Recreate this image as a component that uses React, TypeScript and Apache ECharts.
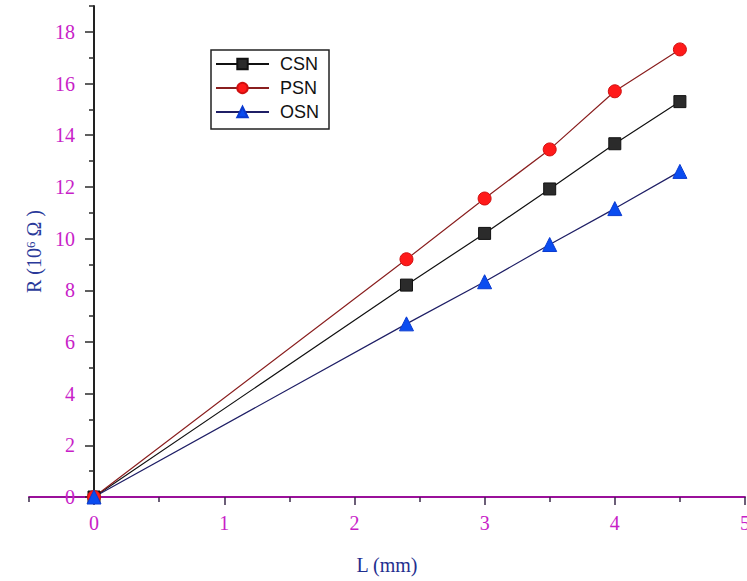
import React, { useEffect, useRef } from "react";
import * as echarts from "echarts";

const lengths = [0, 2.4, 3, 3.5, 4, 4.5];
const csn = [0, 8.2, 10.2, 11.92, 13.67, 15.3];
const psn = [0, 9.2, 11.55, 13.45, 15.7, 17.32];
const osn = [0, 6.7, 8.33, 9.77, 11.16, 12.6];
const xMajorTicks = [0, 1, 2, 3, 4, 5];
const xMinorTicks = [-0.5, 0.5, 1.5, 2.5, 3.5, 4.5];
const yMajorTicks = [0, 2, 4, 6, 8, 10, 12, 14, 16, 18];
const yMinorTicks = [1, 3, 5, 7, 9, 11, 13, 15, 17, 19];

const pair = (ys: number[]) => lengths.map((x, i) => [x, ys[i]]);

export default function App() {
  const ref = useRef<HTMLDivElement>(null);
  useEffect(() => {
    document.body.style.margin = "0";
    const chart = echarts.init(ref.current!, null, { renderer: "svg" });
    const labelColor = "#c81ec8";
    const serif = "'Liberation Serif', 'DejaVu Serif', serif";
    const tickColor = "#2a2a2a";
    chart.setOption({
      animation: false,
      backgroundColor: "#ffffff",
      grid: [
        { left: 94, top: 6, width: 651, bottom: 84, containLabel: false, outerBoundsMode: "none" },
        { left: 29, top: 6, width: 716, bottom: 84, containLabel: false, outerBoundsMode: "none" },
      ],
      legend: {
        orient: "vertical",
        left: 211,
        top: 50,
        padding: [5, 10, 8, 4],
        itemGap: 6,
        itemWidth: 53,
        itemHeight: 13,
        borderColor: "#222",
        borderWidth: 1.5,
        textStyle: {
          fontFamily: "'Liberation Sans', Arial, sans-serif",
          fontSize: 18,
          color: "#111",
          padding: [0, 0, 0, 6],
        },
        data: ["CSN", "PSN", "OSN"],
      },
      xAxis: [
        {
          type: "value",
          gridIndex: 0,
          min: 0,
          max: 5,
          show: false,
        },
        {
          type: "value",
          gridIndex: 1,
          min: -0.5,
          max: 5,
          name: "L (mm)",
          nameLocation: "middle",
          nameGap: 58,
          nameTextStyle: { fontFamily: serif, fontSize: 20, color: "#1f2f8f" },
          axisLine: { onZero: false, lineStyle: { color: "#9a109a", width: 2 } },
          axisTick: { show: true, customValues: xMajorTicks, length: 8, lineStyle: { color: "#3a2a4a", width: 1.5 } },
          axisLabel: { customValues: xMajorTicks, color: labelColor, fontFamily: serif, fontSize: 20, margin: 16 },
          splitLine: { show: false },
        },
        {
          type: "value",
          gridIndex: 1,
          min: -0.5,
          max: 5,
          position: "bottom",
          axisLine: { show: false, onZero: false },
          axisTick: { show: true, customValues: xMinorTicks, length: 5, lineStyle: { color: "#3a2a4a", width: 1.5 } },
          axisLabel: { show: false },
          splitLine: { show: false },
        },
      ],
      yAxis: [
        {
          type: "value",
          gridIndex: 0,
          min: 0,
          max: 19,
          name: "R (10{sup|6} Ω )",
          nameLocation: "middle",
          nameRotate: 90,
          nameGap: 44,
          nameTextStyle: {
            fontFamily: serif,
            fontSize: 20,
            color: "#2a3a9a",
            rich: { sup: { fontFamily: serif, fontSize: 13, color: "#2a3a9a", verticalAlign: "top", padding: [0, 0, 8, 0] } },
          },
          axisLine: { onZero: false, lineStyle: { color: "#222", width: 2 } },
          axisTick: { show: true, customValues: yMajorTicks, length: 9, lineStyle: { color: tickColor, width: 1.5 } },
          axisLabel: { customValues: yMajorTicks, color: labelColor, fontFamily: serif, fontSize: 20, margin: 19 },
          splitLine: { show: false },
        },
        {
          type: "value",
          gridIndex: 0,
          min: 0,
          max: 19,
          position: "left",
          axisLine: { show: false, onZero: false },
          axisTick: { show: true, customValues: yMinorTicks, length: 5, lineStyle: { color: tickColor, width: 1.5 } },
          axisLabel: { show: false },
          splitLine: { show: false },
        },
        {
          type: "value",
          gridIndex: 1,
          min: 0,
          max: 19,
          show: false,
        },
      ],
      series: [
        {
          name: "CSN",
          type: "line",
          xAxisIndex: 0,
          yAxisIndex: 0,
          data: pair(csn),
          symbol: "rect",
          symbolSize: 12,
          z: 3,
          lineStyle: { color: "#111", width: 1.2 },
          itemStyle: { color: "#2b2b2b", borderColor: "#111", borderWidth: 1 },
        },
        {
          name: "PSN",
          type: "line",
          xAxisIndex: 0,
          yAxisIndex: 0,
          data: pair(psn),
          symbol: "circle",
          symbolSize: 13,
          z: 3,
          lineStyle: { color: "#8a1f1f", width: 1.2 },
          itemStyle: { color: "#ff1a1a", borderColor: "#d01010", borderWidth: 1 },
        },
        {
          name: "OSN",
          type: "line",
          xAxisIndex: 0,
          yAxisIndex: 0,
          data: pair(osn),
          symbol: "triangle",
          symbolSize: 14,
          z: 3,
          lineStyle: { color: "#1f1f66", width: 1.2 },
          itemStyle: { color: "#0a4cf0", borderColor: "#0a3ad0", borderWidth: 1 },
        },
      ],
    });
    return () => chart.dispose();
  }, []);
  return <div ref={ref} style={{ width: 747, height: 581 }} />;
}
